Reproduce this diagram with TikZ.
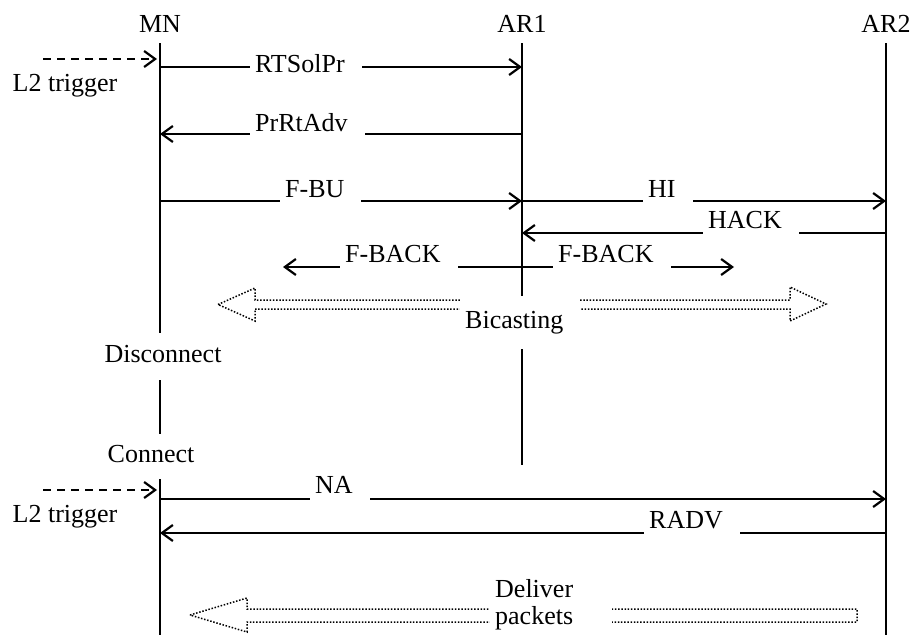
\documentclass[tikz,border=0pt]{standalone}
\usepackage{fontspec}
\setmainfont{Liberation Serif}
\usetikzlibrary{arrows.meta}

\begin{document}
\begin{tikzpicture}[x=1pt,y=-1pt,>={Straight Barb[length=11pt,width=16pt]},
  every node/.style={font=\fontsize{26}{27}\selectfont},
  life/.style={line width=2.2pt},
  msg/.style={line width=2.2pt,->},
  trig/.style={line width=2.2pt,->,dash pattern=on 8pt off 6pt,shorten >=3pt},
  hollow/.style={line width=1.5pt,dash pattern=on 1.5pt off 1.7pt},
  lbl/.style={fill=white,anchor=base west,inner xsep=5pt,inner ysep=1pt,text height=18pt,text depth=7pt,execute at end node={\kern12pt}},
  mnstate/.style={fill=white,anchor=base,inner xsep=2pt,text height=18pt,text depth=7pt}]
\useasboundingbox (0,0) rectangle (914,635);
\node[anchor=base,inner sep=0pt] (mn) at (160,32) {MN};
\node[anchor=base,inner sep=0pt] (ar1) at (522,32) {AR1};
\node[anchor=base,inner sep=0pt] (ar2) at (886,32) {AR2};
\coordinate (top) at (0,43); \coordinate (bot) at (0,635); \coordinate (ar1end) at (522,465);
\coordinate (r1) at (0,67); \coordinate (r2) at (0,134); \coordinate (r3) at (0,201); \coordinate (r4) at (0,233);
\coordinate (r6) at (0,499); \coordinate (r7) at (0,533);
\coordinate (fbl) at (283,267); \coordinate (fbr) at (734,267);
\coordinate (t1) at (43,59); \coordinate (t2) at (43,490);
% lifelines
\draw[life] (mn |- top) -- (mn |- bot);
\draw[life] (ar1 |- top) -- (ar1end);
\draw[life] (ar2 |- top) -- (ar2 |- bot);
% messages
\draw[trig] (t1) -- (mn |- t1); \draw[trig] (t2) -- (mn |- t2);
\draw[msg] (mn |- r1) -- (ar1 |- r1); \draw[msg] (ar1 |- r2) -- (mn |- r2);
\draw[msg] (mn |- r3) -- (ar1 |- r3); \draw[msg] (ar1 |- r3) -- (ar2 |- r3);
\draw[msg] (ar2 |- r4) -- (ar1 |- r4);
\draw[msg] (ar1 |- fbl) -- (fbl); \draw[msg] (ar1 |- fbr) -- (fbr);
\draw[msg] (mn |- r6) -- (ar2 |- r6); \draw[msg] (ar2 |- r7) -- (mn |- r7);
% hollow arrows
\draw[hollow] (218,304.5) -- (255,288) -- (255,300) -- (790,300) -- (790,287) -- (826,304) -- (790,321) -- (790,309) -- (255,309) -- (255,321) -- cycle;
\draw[hollow] (190,615) -- (247,598) -- (247,609) -- (857,609) -- (857,622) -- (247,622) -- (247,632) -- cycle;
% labels
\node[lbl] (rts) at (250,72) {RTSolPr};
\node[lbl] (prrt) at (250,131) {PrRtAdv};
\node[lbl] (fbu) at (280,197) {F-BU};
\node[lbl] (hi) at (643,197) {HI};
\node[lbl] (hack) at (703,228) {HACK};
\node[lbl] (fbackl) at (340,262) {F-BACK};
\node[lbl] (fbackr) at (553,262) {F-BACK};
\node[lbl,inner ysep=14pt] (bicast) at (460,328) {Bicasting};
\node[lbl] (na) at (310,493) {NA};
\node[lbl] (radv) at (644,528) {RADV};
\node[mnstate,inner ysep=11pt] (disc) at (163,362) {Disconnect};
\node[mnstate,inner ysep=10pt] (conn) at (151,462) {Connect};
\node[anchor=base] (l2a) at (65,91) {L2 trigger};
\node[anchor=base] (l2b) at (65,522) {L2 trigger};
\node[fill=white,anchor=west,text width=112pt,align=left,inner xsep=5pt] (deliver) at (490,604.4) {Deliver\\packets};
\end{tikzpicture}
\end{document}
